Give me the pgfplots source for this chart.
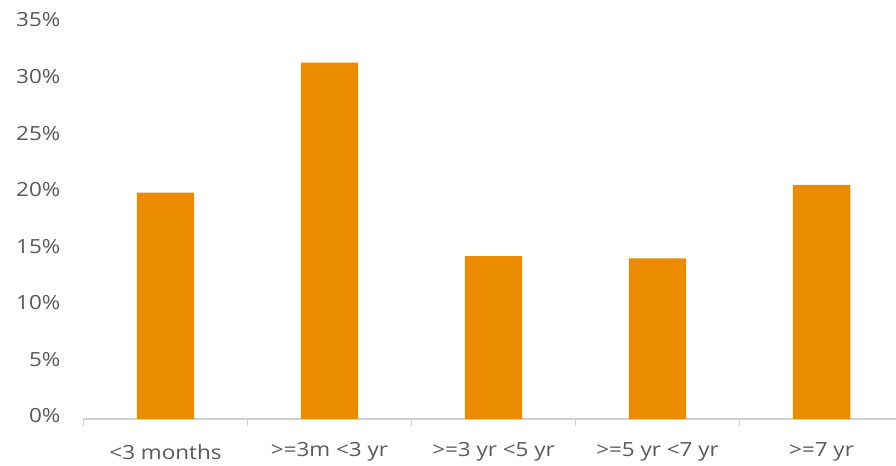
\documentclass[border=0pt]{standalone}
\usepackage{pgfplots}
\pgfplotsset{compat=1.18}
\usepackage{fontspec}
\setmainfont[FakeStretch=1.15]{Open Sans}

\definecolor{barorange}{HTML}{EB8C00}
\definecolor{labelgray}{HTML}{595959}
\definecolor{axisgray}{HTML}{D0D0D0}

\begin{document}
\begin{tikzpicture}
\path[use as bounding box] (0,0) rectangle (896bp,466bp);
\begin{axis}[
    at={(83.5bp,47bp)}, anchor=south west,
    scale only axis,
    width=812.5bp, height=396bp,
    xmin=-0.5, xmax=4.454,
    ymin=0, ymax=35,
    axis x line=bottom,
    axis y line=left,
    axis line style={-},
    x axis line style={draw=axisgray, line width=1.2bp},
    y axis line style={draw=none},
    ytick={0,5,...,35},
    yticklabel={\pgfmathprintnumber{\tick}\%},
    y tick style={draw=none},
    yticklabel style={anchor=east, inner sep=0pt, xshift=-16bp, yshift=3bp},
    % category boundaries carry the tick marks
    xtick={-0.5,0.5,1.5,2.5,3.5},
    xticklabels={},
    x tick style={draw=axisgray, line width=1.2bp},
    tick align=outside,
    major tick length=7bp,
    % category names sit at the bar centres
    extra x ticks={0,1,2,3,4},
    extra x tick labels={{<3 months},{>=3m <3 yr},{>=3 yr <5 yr},{>=5 yr <7 yr},{>=7 yr}},
    extra x tick style={major tick length=0pt},
    xticklabel style={anchor=center, inner sep=0pt, yshift=-33bp},
    tick label style={font=\fontsize{19.5bp}{22bp}\selectfont, text=labelgray},
    /pgf/number format/assume math mode=true,
    clip=false,
]
\addplot[ybar, bar width=0.35, fill=barorange, draw=none]
    coordinates {(0,20.0) (1,31.5) (2,14.4) (3,14.2) (4,20.7)};
\end{axis}
\end{tikzpicture}
\end{document}
